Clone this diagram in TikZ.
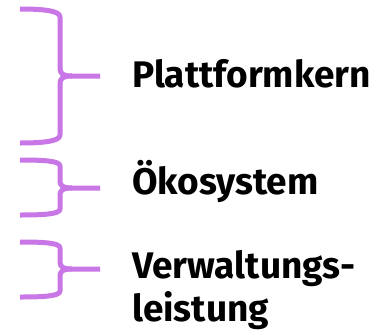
\documentclass[tikz,border=0pt]{standalone}
\usepackage{fontspec}
\setmainfont{Fira Sans}
\definecolor{bracecol}{RGB}{201,118,230}
\tikzset{
  bracepath/.style={draw=bracecol, line width=5pt, line cap=butt, line join=round},
  label/.style={anchor=base west, inner sep=0pt, font=\fontsize{37}{43}\selectfont\bfseries, align=left}
}
\begin{document}
\begin{tikzpicture}[x=1pt,y=-1pt]
\useasboundingbox (0,0) rectangle (388,333);
% brace 1
\draw[bracepath] (20,9) .. controls (45,9) and (60,11) .. (60,17) -- (60,68)
  .. controls (60,74) and (63,76) .. (72,76) -- (100,76);
\draw[bracepath] (20,143) .. controls (45,143) and (60,141) .. (60,135) -- (60,84)
  .. controls (60,78) and (63,76) .. (72,76);
% brace 2
\draw[bracepath] (20,160) .. controls (45,160) and (60,161) .. (60,166) -- (60,181)
  .. controls (60,186) and (63,188) .. (72,188) -- (100,188);
\draw[bracepath] (20,215) .. controls (45,215) and (60,214) .. (60,209) -- (60,195)
  .. controls (60,190) and (63,188) .. (72,188);
% brace 3
\draw[bracepath] (20,242) .. controls (45,242) and (60,243) .. (60,248) -- (60,262)
  .. controls (60,267) and (63,269) .. (72,269) -- (100,269);
\draw[bracepath] (20,297) .. controls (45,297) and (60,296) .. (60,291) -- (60,276)
  .. controls (60,271) and (63,269) .. (72,269);
\node[label] (kern) at (132,87) {Plattformkern};
\node[label] (oeko) at (132,194) {Ökosystem};
\node[label] (verw) at (132,321) {Verwaltungs-\\leistung};
\end{tikzpicture}
\end{document}
